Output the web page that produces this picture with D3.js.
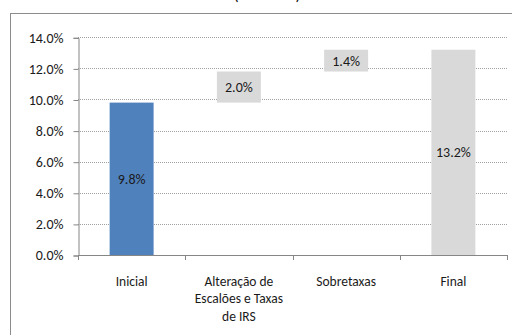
<!DOCTYPE html>
<html>
<head>
<meta charset="utf-8">
<script src="https://cdn.jsdelivr.net/npm/d3@7"></script>
<style>
  html, body { margin: 0; padding: 0; background: #fff; overflow: hidden; }
  svg { display: block; }
  text { font-family: Carlito, Lato, "Open Sans", sans-serif; fill: #1a1a1a; }
</style>
</head>
<body>
<svg id="chart" width="512" height="335"></svg>
<script>
// Waterfall of the effective rate, from the initial level to the final one
const categories = ["Inicial", "Alteração de\nEscalões e Taxas\nde IRS", "Sobretaxas", "Final"];
const values = [9.8, 2.0, 1.4, 13.2];
const kinds = ["total", "step", "step", "total"];
const yTicks = [0, 2, 4, 6, 8, 10, 12, 14];
const titleText = "(2012-13)";

const svg = d3.select("#chart");
const plot = { left: 78, right: 507, top: 37.3, bottom: 255 };

// frame of the chart area
svg.append("rect")
  .attr("x", 10.5).attr("y", 13.5)
  .attr("width", 700).attr("height", 500)
  .attr("fill", "none").attr("stroke", "#8c8c8c").attr("stroke-width", 1);

// title, mostly above the visible area
svg.append("text")
  .attr("x", 267).attr("y", -0.5)
  .attr("text-anchor", "middle")
  .attr("font-size", 17)
  .text(titleText);

const x = d3.scaleBand().domain(categories).range([plot.left, plot.right]).padding(0);
const y = d3.scaleLinear().domain([0, 14]).range([plot.bottom, plot.top]);
const barW = x.bandwidth() * 0.41;

// horizontal dotted gridlines
svg.append("g").selectAll("line")
  .data(yTicks.filter(t => t > 0))
  .join("line")
  .attr("x1", plot.left).attr("x2", plot.right)
  .attr("y1", d => Math.round(y(d)) + 0.5).attr("y2", d => Math.round(y(d)) + 0.5)
  .attr("stroke", "#a0a0a0").attr("stroke-width", 1)
  .attr("stroke-dasharray", "1,1");

// running base for the floating steps
let running = 0;
const bars = values.map((v, i) => {
  let lo, hi;
  if (kinds[i] === "total") { lo = 0; hi = v; running = v; }
  else { lo = running; hi = running + v; running = hi; }
  return { cat: categories[i], value: v, lo, hi, kind: kinds[i], first: i === 0 };
});

const barG = svg.append("g");
barG.selectAll("rect")
  .data(bars)
  .join("rect")
  .attr("x", d => x(d.cat) + (x.bandwidth() - barW) / 2)
  .attr("width", barW)
  .attr("y", d => y(d.hi))
  .attr("height", d => y(d.lo) - y(d.hi))
  .attr("fill", d => d.first ? "#4f81bd" : "#d9d9d9");

barG.selectAll("text")
  .data(bars)
  .join("text")
  .attr("x", d => x(d.cat) + x.bandwidth() / 2)
  .attr("y", d => (y(d.lo) + y(d.hi)) / 2)
  .attr("dy", "0.35em")
  .attr("text-anchor", "middle")
  .attr("font-size", 14)
  .text(d => d.value.toFixed(1) + "%");

// y axis
const yAxis = d3.axisLeft(y).tickValues(yTicks).tickSize(5).tickPadding(10)
  .tickFormat(d => d.toFixed(1) + "%");
const yg = svg.append("g").attr("transform", `translate(${plot.left + 0.5},0.5)`).call(yAxis);
yg.select(".domain").attr("stroke", "#868686");
yg.selectAll(".tick line").attr("stroke", "#868686");
yg.selectAll(".tick text").attr("font-size", 14).attr("fill", "#1a1a1a")
  .style("font-family", "Carlito, Lato, 'Open Sans', sans-serif");

// x axis line with ticks at band boundaries
const xg = svg.append("g");
xg.append("line")
  .attr("x1", plot.left).attr("x2", plot.right)
  .attr("y1", plot.bottom + 0.5).attr("y2", plot.bottom + 0.5)
  .attr("stroke", "#868686");
const bounds = categories.map(c => x(c)).concat([plot.right]);
xg.selectAll("line.tk")
  .data(bounds)
  .join("line").attr("class", "tk")
  .attr("x1", d => Math.round(d) + 0.5).attr("x2", d => Math.round(d) + 0.5)
  .attr("y1", plot.bottom).attr("y2", plot.bottom + 5)
  .attr("stroke", "#868686");

// category labels, one tspan per line
const lbl = xg.selectAll("text.cat")
  .data(categories)
  .join("text").attr("class", "cat")
  .attr("x", d => x(d) + x.bandwidth() / 2)
  .attr("y", 285.5)
  .attr("text-anchor", "middle")
  .attr("font-size", 13.5);
lbl.selectAll("tspan")
  .data(d => d.split("\n").map(s => ({ s, cx: x(d) + x.bandwidth() / 2 })))
  .join("tspan")
  .attr("x", d => d.cx)
  .attr("dy", (d, i) => i === 0 ? 0 : 17.7)
  .text(d => d.s);
</script>
</body>
</html>
